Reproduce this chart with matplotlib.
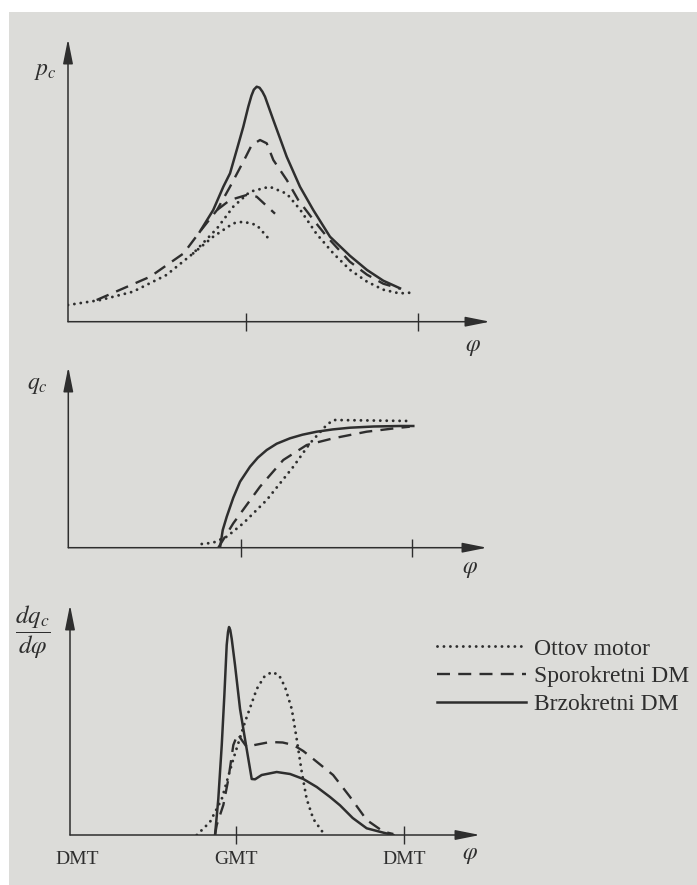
import matplotlib
matplotlib.use("Agg")
import matplotlib.pyplot as plt
from matplotlib.patches import Rectangle

plt.rcParams['font.family'] = 'Liberation Serif'
plt.rcParams['mathtext.fontset'] = 'stix'

# crank angle in degrees, GMT = 0, DMT = -180 / 180
# --- cylinder pressure p_c ---
otto_p_x = [-186, -152, -118, -83, -55, -30, -13, 4.5, 25, 43, 57, 74, 92, 109, 127, 144, 161, 177]
otto_p_y = [16.7, 21.7, 30, 46.7, 68.3, 93.3, 115, 130, 135, 128, 112, 88, 68, 52, 40, 32, 28.3, 29.3]
otto_p2_x = [-55, -34, -13, -2.5, 11.5, 23.7]
otto_p2_y = [68.3, 85, 98.4, 100, 96.7, 83.4]

sporo_p_x = [-156, -100, -65, -48, -30, -16.4, -0.7, 6.3, 15, 22, 28.9, 43, 55, 71, 85, 109, 127, 144, 161.5]
sporo_p_y = [21.7, 45, 68.3, 90, 111.7, 135, 163.4, 176.7, 181.7, 178.4, 161.7, 141.7, 121.7, 101.7, 85, 60, 47, 38, 33]
sporo_p2_x = [-30, -16.4, 1, 11.5, 30.7]
sporo_p2_y = [111.7, 121.7, 126.7, 125, 108]

brzo_p_x = [-48, -34, -23.4, -16.4, -9.4, -2.5, 2.7, 6, 8.5, 11.5, 14.5, 17.5, 20.2, 28.9, 35.9, 42.9,
            56.8, 70.7, 88.2, 109, 127, 144, 161.5]
brzo_p_y = [90, 111.7, 135, 148.4, 171.7, 195, 215, 226, 232, 235, 234, 230, 225, 201.7, 183.4, 165,
            135, 111.7, 85, 66, 51.7, 41, 33.4]

# --- burned fuel fraction q_c ---
otto_q_x = [-41, -29, -14.7, 2.7, 27.4, 55.4, 72.9, 90.5, 97.5, 178]
otto_q_y = [3.7, 5, 11, 24.4, 47.7, 81, 104.4, 122.7, 127.7, 126.7]
sporo_q_x = [-23.6, -7.8, 20.3, 44.8, 69.5, 97.5, 132.6, 167.7, 178]
sporo_q_y = [0, 24.4, 61, 87.7, 102.7, 109.4, 116, 120, 121]
brzo_q_x = [-21.8, -18.9, -14.7, -7.8, -0.7, 9.8, 18, 27.4, 37.9, 51.9, 65, 80, 97, 115, 140, 167.7, 181.7]
brzo_q_y = [0, 17.7, 31, 50, 66, 81, 90, 97.7, 104, 109.4, 113, 116, 118.3, 120, 121.2, 121.7, 121.7]

# --- burning rate dq_c/dphi ---
otto_r_x = [-42, -27.9, -15.3, -2.9, 9.6, 22.2, 30, 38.2, 46, 52.5, 59.7, 65, 70.4, 75.7, 82.8, 93.5]
otto_r_y = [0, 13, 36, 76, 113, 146, 158, 163, 160, 148, 126, 96, 63, 36, 16, 2]
sporo_r_x = [-22.5, -20.7, -13.6, -8.2, -2.9, 1.8, 6.1, 11.5, 20, 36.4, 50, 61.4, 72, 82.8, 104, 122, 140,
             158, 168.5]
sporo_r_y = [0, 10, 30, 56, 90, 101, 95, 88, 90, 93, 92.5, 90, 84, 76, 60, 38.3, 15, 3.3, 1]
brzo_r_x = [-22.5, -19, -15.3, -12.5, -10, -8.6, -7.5, -6.2, -4.6, -1.1, 4.3, 9.6, 13.2, 16.8, 20.4, 27.5,
            43.6, 57.9, 72.1, 86.5, 100.7, 111.4, 125, 140, 158, 168.5]
brzo_r_y = [0, 36, 90, 140, 190, 203, 208, 205, 196, 170, 126, 96, 76, 56, 55.7, 60, 63, 61, 56, 48, 38,
            29.7, 17, 6.7, 2.3, 0]

labels = ['Ottov motor', 'Sporokretni DM', 'Brzokretni DM']

ink = '#2e2e2e'
W, H = 697, 885
dot = dict(color=ink, lw=2.1, ls=(0, (0.01, 2.2)), dash_capstyle='round')
dash = dict(color=ink, lw=1.7, ls=(0, (5.5, 3.5)))
solid = dict(color=ink, lw=1.8)

fig = plt.figure(figsize=(W / 100, H / 100), dpi=100)
fig.patches.append(Rectangle((9 / W, 0), 1, 1 - 12 / H, transform=fig.transFigure,
                             facecolor='#dcdcd9', edgecolor='none', zorder=-10))


def make_axes(left, right, bottom, top, xlim, ylim):
    ax = fig.add_axes([left / W, 1 - bottom / H, (right - left) / W, (bottom - top) / H])
    ax.set_facecolor('none')
    ax.set_xlim(xlim)
    ax.set_ylim(ylim)
    for s in ax.spines.values():
        s.set_visible(False)
    ax.set_yticks([])
    ax.set_xticks([0, 180])
    ax.set_xticklabels([])
    ax.tick_params(axis='x', direction='inout', length=13, width=1, color=ink)
    arrow = dict(arrowstyle='-|>,head_length=1.5,head_width=0.3', color=ink, lw=1.1,
                 shrinkA=0, shrinkB=0)
    ax.annotate('', xy=(0, 1), xytext=(0, 0), xycoords='axes fraction', arrowprops=arrow)
    ax.annotate('', xy=(1, 0), xytext=(0, 0), xycoords='axes fraction', arrowprops=arrow)
    return ax


# p_c panel
ax1 = make_axes(68, 490, 321.7, 39, (-186, 255.7), (0, 282.7))
ax1.plot(otto_p_x, otto_p_y, **dot)
ax1.plot(otto_p2_x, otto_p2_y, **dot)
ax1.plot(sporo_p_x, sporo_p_y, **dash)
ax1.plot(sporo_p2_x, sporo_p2_y, **dash)
ax1.plot(brzo_p_x, brzo_p_y, **solid)
fig.text(45 / W, 1 - 72 / H, r'$p_c$', ha='center', va='center', fontsize=17, color=ink)
fig.text(473 / W, 1 - 348 / H, r'$\varphi$', ha='center', va='center', fontsize=17, color=ink)

# q_c panel
ax2 = make_axes(68.3, 487, 547.7, 367, (-181.5, 259.3), (0, 180.7))
ax2.plot(otto_q_x, otto_q_y, **dot)
ax2.plot(sporo_q_x, sporo_q_y, **dash)
ax2.plot(brzo_q_x, brzo_q_y, **solid)
fig.text(37 / W, 1 - 385 / H, r'$q_c$', ha='center', va='center', fontsize=17, color=ink)
fig.text(470 / W, 1 - 570 / H, r'$\varphi$', ha='center', va='center', fontsize=17, color=ink)

# dq_c/dphi panel
ax3 = make_axes(70, 480, 835, 605, (-177.9, 261.4), (0, 230))
ax3.plot(otto_r_x, otto_r_y, label=labels[0], **dot)
ax3.plot(sporo_r_x, sporo_r_y, label=labels[1], **dash)
ax3.plot(brzo_r_x, brzo_r_y, label=labels[2], **solid)
ax3.set_xticks([-170, 0, 180])
ax3.set_xticklabels(['DMT', 'GMT', 'DMT'], fontsize=14, color=ink)
ax3.tick_params(axis='x', pad=5)
ax3.xaxis.get_major_ticks()[0].tick1line.set_visible(False)
fig.text(33 / W, 1 - 632 / H, r'$\dfrac{dq_c}{d\varphi}$', ha='center', va='center',
         fontsize=18, color=ink)
fig.text(470 / W, 1 - 856 / H, r'$\varphi$', ha='center', va='center', fontsize=17, color=ink)

ax3.legend(loc='upper left', bbox_to_anchor=(437 / W, 1 - 638 / H),
           bbox_transform=fig.transFigure, frameon=False, fontsize=17,
           handlelength=3.75, handletextpad=0.35, labelspacing=0.27,
           borderpad=0, borderaxespad=0, labelcolor=ink)

fig.savefig('out.png', dpi=100)
